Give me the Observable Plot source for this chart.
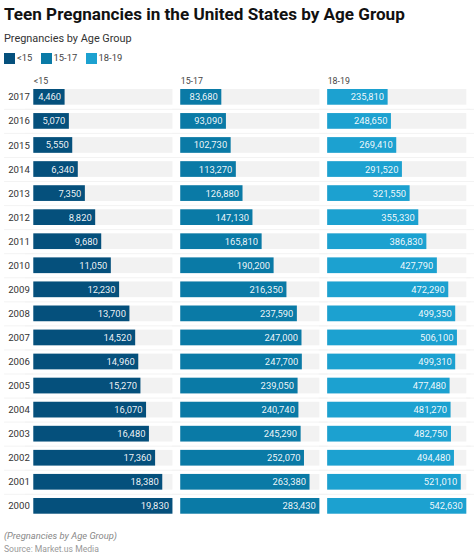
<!DOCTYPE html>
<html>
<head>
<meta charset="utf-8">
<script src="https://cdn.jsdelivr.net/npm/d3@7"></script>
<script src="https://cdn.jsdelivr.net/npm/@observablehq/plot@0.6"></script>
<style>
html,body{margin:0;padding:0;background:#fff;width:474px;height:559px;overflow:hidden;font-family:Roboto,sans-serif}
.t{position:absolute;left:4px;white-space:nowrap}
#title{top:3px;font-size:17.1px;font-weight:700;color:#111;line-height:22px}
#sub{top:30.5px;font-size:10.9px;color:#333;line-height:16px}
#legend{position:absolute;top:53px;left:4px;height:11px;font-size:9.4px;color:#444}
#legend span{position:absolute;top:-2px;line-height:14px;white-space:nowrap}
#legend i{position:absolute;top:0;width:11px;height:11px}
#chart{position:absolute;left:0;top:68px}
#note{top:528.5px;font-size:9.4px;font-style:italic;color:#888;line-height:14px}
#src{top:543px;font-size:8.6px;color:#999;line-height:13px}
</style>
</head>
<body>
<div class="t" id="title">Teen Pregnancies in the United States by Age Group</div>
<div class="t" id="sub">Pregnancies by Age Group</div>
<div id="legend"></div>
<div id="chart"></div>
<div class="t" id="note">(Pregnancies by Age Group)</div>
<div class="t" id="src">Source: Market.us Media</div>
<script>
const years = ["2017","2016","2015","2014","2013","2012","2011","2010","2009","2008","2007","2006","2005","2004","2003","2002","2001","2000"];
const groups = ["<15","15-17","18-19"];
const colors = ["#05507c","#0a7aa6","#1ca1d0"];
const under15 = [4460,5070,5550,6340,7350,8820,9680,11050,12230,13700,14520,14960,15270,16070,16480,17360,18380,19830];
const age15to17 = [83680,93090,102730,113270,126880,147130,165810,190200,216350,237590,247000,247700,239050,240740,245290,252070,263380,283430];
const age18to19 = [235810,248650,269410,291520,321550,355330,386830,427790,472290,499350,506100,499310,477480,481270,482750,494480,521010,542630];
const series = [under15, age15to17, age18to19];

const rows = groups.flatMap((group, g) => {
  const max = d3.max(series[g]);
  return years.map((year, i) => ({group, year, value: series[g][i], share: series[g][i] / max}));
});

// legend
const legend = document.getElementById("legend");
const legendX = [0, 36.5, 81.5];
groups.forEach((g, i) => {
  const sw = document.createElement("i");
  sw.style.left = legendX[i] + "px";
  sw.style.background = colors[i];
  legend.appendChild(sw);
  const lb = document.createElement("span");
  lb.style.left = (legendX[i] + 13) + "px";
  lb.textContent = g;
  legend.appendChild(lb);
});

const separators = years.slice(0, -1);
const fmt = d3.format(",");

const plot = Plot.plot({
  width: 474,
  height: 456,
  marginTop: 12.65,
  marginBottom: 1.95,
  marginLeft: 33.3,
  marginRight: 7.7,
  style: {fontFamily: "Roboto, sans-serif", background: "transparent"},
  fx: {domain: groups, paddingInner: 0.0531, paddingOuter: 0, round: false, axis: null},
  x: {domain: [0, 1], axis: null},
  y: {domain: years, padding: 0.347, round: false, label: null},
  color: {domain: groups, range: colors},
  marks: [
    Plot.ruleY(separators, {y: d => d, dy: 12, x1: -0.06, x2: 1.06, stroke: "#f3f3f3", strokeWidth: 1}),
    Plot.ruleY(separators, {y: d => d, dy: 12, fx: () => groups[0], x1: -0.21, x2: 0, stroke: "#f3f3f3", strokeWidth: 1}),
    Plot.ruleY(separators, {y: d => d, dy: 12, fx: () => groups[2], x1: 1, x2: 1.03, stroke: "#f3f3f3", strokeWidth: 1}),
    Plot.barX(rows, {fx: "group", y: "year", x1: 0, x2: 1, fill: "#f2f2f2"}),
    Plot.barX(rows, {fx: "group", y: "year", x1: 0, x2: "share", fill: "group"}),
    Plot.text(rows, {fx: "group", y: "year", x: "share", text: d => fmt(d.value), textAnchor: "end", dx: -4, fill: "#fff", fontSize: 9.4, fillOpacity: 0.95}),
    Plot.text(groups, {fx: d => d, text: d => d, frameAnchor: "top-left", dy: -3.5, fontSize: 8.8, fill: "#444"}),
    Plot.axisY({tickSize: 0, tickPadding: 4, fontSize: 9.6, color: "#333", label: null})
  ]
});
document.getElementById("chart").appendChild(plot);
</script>
</body>
</html>
